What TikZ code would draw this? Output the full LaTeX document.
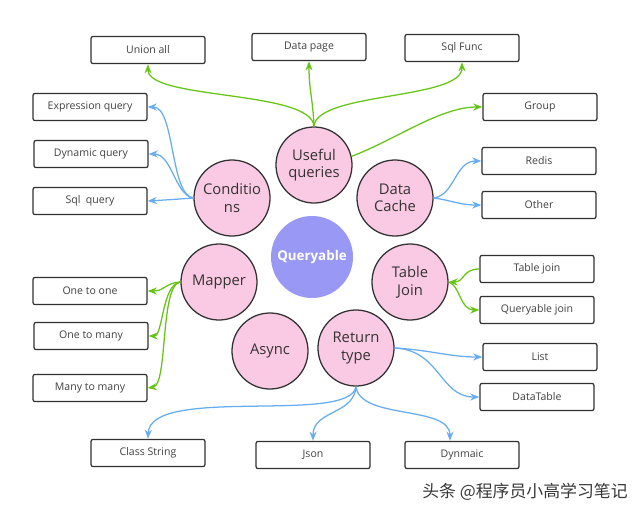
\documentclass[tikz,border=0pt]{standalone}
\usepackage{fontspec}
\setmainfont{Open Sans}
\newfontfamily\cjkfont{Noto Sans CJK SC}
\usetikzlibrary{arrows.meta}
\definecolor{linkgreen}{RGB}{102,196,20}
\definecolor{linkblue}{RGB}{104,172,240}
\definecolor{topicpink}{RGB}{250,202,228}
\definecolor{hubblue}{RGB}{153,153,245}
\definecolor{edgegray}{RGB}{50,50,50}
\tikzset{
  leaf box/.style={
    draw=edgegray,
    line width=0.9pt,
    rounded corners=1.5pt,
    minimum width=2.85cm,
    minimum height=0.68cm,
    text=black!75,
    font=\fontsize{7.5}{9}\selectfont
  },
  topic circle/.style={
    circle,
    draw=edgegray,
    line width=0.9pt,
    fill=topicpink,
    minimum size=1.9cm,
    inner sep=0pt,
    align=center,
    text=black!80,
    font=\fontsize{10.5}{12.5}\selectfont
  },
  hub circle/.style={
    circle,
    fill=hubblue,
    minimum size=2.05cm,
    inner sep=0pt,
    text=white,
    font=\fontsize{9.5}{11}\selectfont\bfseries
  },
  green link/.style={
    -{Stealth[length=6.5pt, width=5pt]},
    line width=0.9pt,
    color=linkgreen
  },
  blue link/.style={
    -{Stealth[length=6.5pt, width=5pt]},
    line width=0.9pt,
    color=linkblue
  }
}

\begin{document}
\begin{tikzpicture}[x=0.025cm, y=-0.025cm]
  \useasboundingbox (0,0) rectangle (640,515);

  %% ---- centre and topics ----
  \node[hub circle]   (hub)    at (312,257) {Queryable};
  \node[topic circle] (useful) at (314,165) {Useful\\queries};
  \node[topic circle] (cond)   at (232,198) {Conditio\\ns};
  \node[topic circle] (cache)  at (395,198) {Data\\Cache};
  \node[topic circle] (mapper) at (219,282) {Mapper};
  \node[topic circle] (join)   at (410,282) {Table\\Join};
  \node[topic circle] (async)  at (270,351) {Async};
  \node[topic circle] (ret)    at (356,348) {Return\\type};

  %% ---- leaf boxes ----
  \node[leaf box] (union)  at (148,50)  {Union all};
  \node[leaf box] (page)   at (309,47)  {Data page};
  \node[leaf box] (func)   at (462,48)  {Sql Func};
  \node[leaf box] (group)  at (540,107) {Group};
  \node[leaf box] (expr)   at (90,107)  {Expression query};
  \node[leaf box] (dyn)    at (91,154)  {Dynamic query};
  \node[leaf box] (sqlq)   at (90,201)  {Sql\ \ query};
  \node[leaf box] (redis)  at (539,161) {Redis};
  \node[leaf box] (other)  at (539,205) {Other};
  \node[leaf box] (tjoin)  at (537,269) {Table join};
  \node[leaf box] (qjoin)  at (537,310) {Queryable join};
  \node[leaf box] (one)    at (90,291)  {One to one};
  \node[leaf box] (onemany) at (91,336) {One to many};
  \node[leaf box] (manymany) at (90,388) {Many to many};
  \node[leaf box] (list)   at (540,357) {List};
  \node[leaf box] (table)  at (537,397) {DataTable};
  \node[leaf box] (cls)    at (148,453) {Class String};
  \node[leaf box] (json)   at (313,455) {Json};
  \node[leaf box] (dynm)   at (462,455) {Dynmaic};

  %% ---- useful queries ----
  \draw[green link] (useful.north) .. controls (312,90) and (148,100) .. (union.south);
  \draw[green link] (useful.north) .. controls (313,100) and (309,90) .. (page.south);
  \draw[green link] (useful.north) .. controls (316,92) and (462,100) .. (func.south);
  \draw[green link] (useful.13) .. controls (395,140) and (440,107) .. (group.west);

  %% ---- conditions ----
  \draw[blue link] (cond.west) .. controls (170,195) and (175,107) .. (expr.east);
  \draw[blue link] (cond.west) .. controls (175,195) and (172,154) .. (dyn.east);
  \draw[blue link] (cond.west) .. controls (180,199) and (165,200) .. (sqlq.east);

  %% ---- data cache ----
  \draw[blue link] (cache.east) .. controls (455,195) and (455,161) .. (redis.west);
  \draw[blue link] (cache.east) .. controls (450,200) and (460,205) .. (other.west);

  %% ---- table join ----
  \draw[green link] (tjoin.west) .. controls (462,269) and (465,282) .. (join.east);
  \draw[green link] (join.east) .. controls (460,285) and (460,310) .. (qjoin.west);

  %% ---- mapper ----
  \draw[green link] (mapper.west) .. controls (165,283) and (165,291) .. (one.east);
  \draw[green link] (mapper.west) .. controls (162,284) and (163,336) .. (onemany.east);
  \draw[green link] (mapper.west) .. controls (160,284) and (168,385) .. (manymany.east);

  %% ---- return type ----
  \draw[blue link] (ret.east) .. controls (430,350) and (450,357) .. (list.west);
  \draw[blue link] (ret.east) .. controls (440,350) and (440,397) .. (table.west);
  \draw[blue link] (ret.south) .. controls (350,425) and (150,385) .. (cls.north);
  \draw[blue link] (ret.south) .. controls (354,415) and (313,410) .. (json.north);
  \draw[blue link] (ret.south) .. controls (360,420) and (450,405) .. ([xshift=-0.3cm]dynm.north);

  %% ---- watermark ----
  \node[text=black!78, font=\cjkfont\fontsize{12}{14}\selectfont] (mark) at (525,492) {头条 @程序员小高学习笔记};
\end{tikzpicture}
\end{document}
